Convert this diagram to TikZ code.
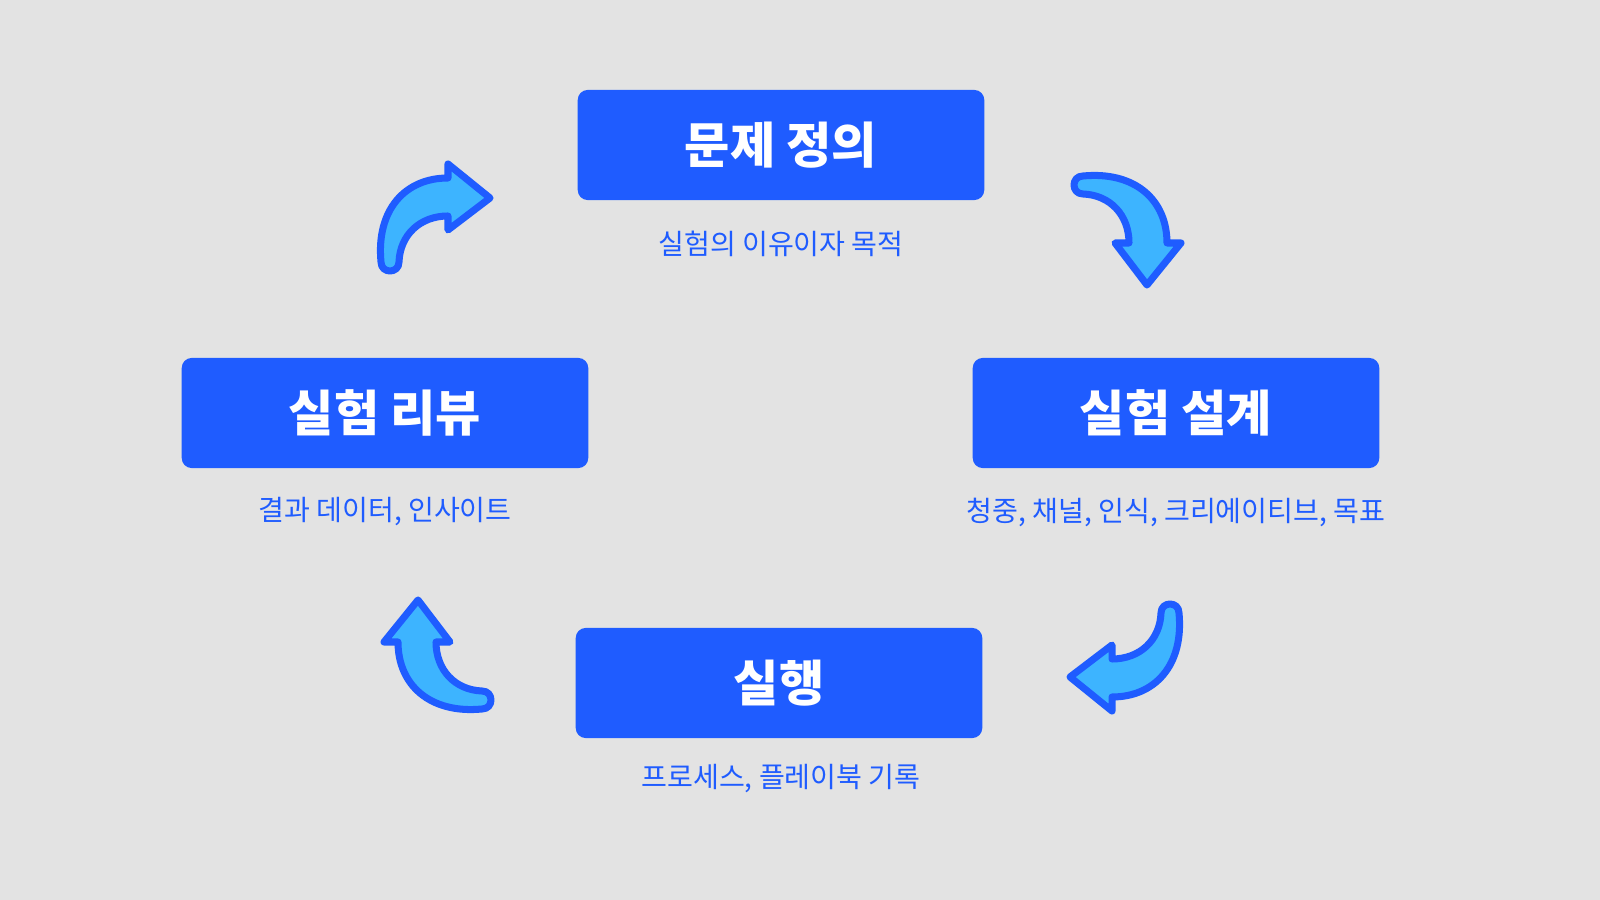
\documentclass[tikz,border=0pt]{standalone}
\usepackage{fontspec}
\setmainfont{Noto Sans CJK KR}
\usetikzlibrary{positioning}
\definecolor{stepblue}{HTML}{1F5CFF}
\definecolor{arrowfill}{HTML}{3DB4FF}
\definecolor{bggray}{HTML}{E3E3E3}

\tikzset{
  stage/.style={fill=stepblue, rounded corners=8.5pt, minimum width=347pt, minimum height=94pt,
    text=white, font=\fontsize{42}{46}\selectfont\bfseries, inner sep=0},
  note/.style={text=stepblue, font=\fontsize{24}{28}\selectfont},
  curlarrow/.pic={
    \draw[fill=arrowfill, draw=stepblue, line width=6pt, line join=round]
      (-9,8) .. controls (-14,60) and (15,92) .. (58,92) -- (58,106) -- (100,72)
      -- (58,40) -- (58,54) .. controls (30,54) and (10,35) .. (9,8)
      .. controls (9,-4) and (-9,-4) .. (-9,8) -- cycle;
  }
}

\begin{document}
\begin{tikzpicture}[x=0.03cm, y=0.03cm]

% background
\fill[bggray] (0,0) rectangle (1600,900);
\useasboundingbox (0,0) rectangle (1600,900);

% stages
\node[stage] (define) at (781,755) {문제 정의};
\node[stage] (design) at (1176,487) {실험 설계};
\node[stage] (run) at (779,217) {실행};
\node[stage] (review) at (385,487) {실험 리뷰};

% notes
\node[note] (definenote) at (781,656) {실험의 이유이자 목적};
\node[note] (designnote) at (1176,388) {청중, 채널, 인식, 크리에이티브, 목표};
\node[note] (runnote) at (781,121) {프로세스, 플레이북 기록};
\node[note] (reviewnote) at (385,388) {결과 데이터, 인사이트};

% cycle arrows
\pic at (390,630) {curlarrow};
\pic[rotate=-90] at (1075,715) {curlarrow};
\pic[rotate=180] at (1170,295) {curlarrow};
\pic[rotate=90] at (490,200) {curlarrow};

\end{tikzpicture}
\end{document}
